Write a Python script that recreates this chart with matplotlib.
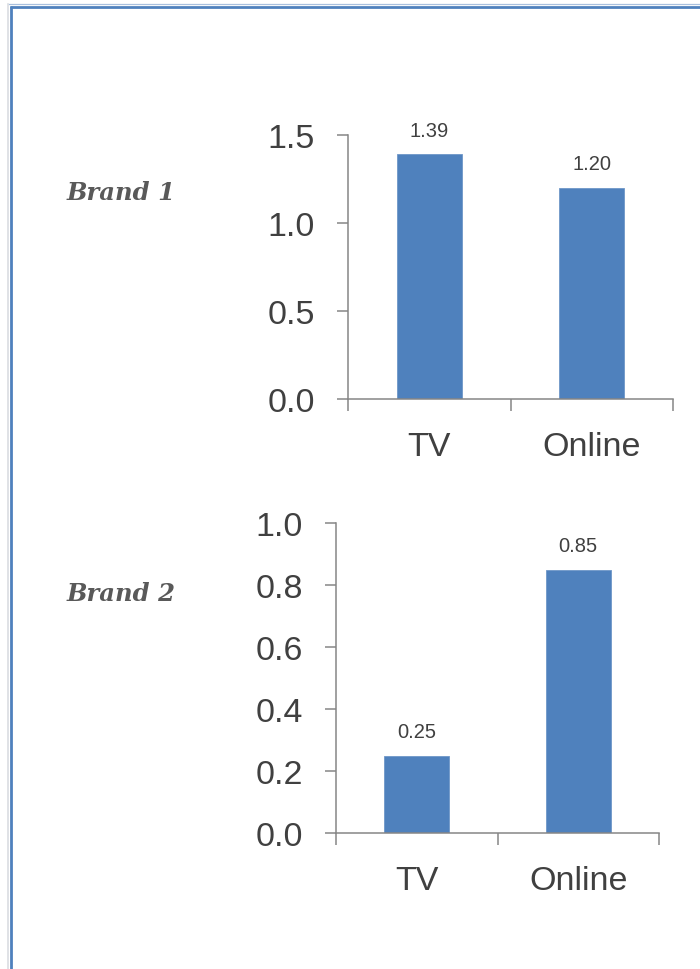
import matplotlib
matplotlib.use("Agg")
import matplotlib.pyplot as plt
from matplotlib.lines import Line2D
from matplotlib.ticker import FixedLocator

# Data
categories = ["TV", "Online"]
brand1_values = [1.39, 1.20]
brand2_values = [0.25, 0.85]
brand1_ticks = [0.0, 0.5, 1.0, 1.5]
brand2_ticks = [0.0, 0.2, 0.4, 0.6, 0.8, 1.0]
brand_names = ["Brand 1", "Brand 2"]

W, H = 700, 970
BAR = "#4F81BD"
AXIS = "#868686"
TEXT = "#404040"

fig = plt.figure(figsize=(W / 100, H / 100), dpi=100)
fig.patch.set_facecolor("white")


def px_axes(left, top, right, bottom):
    return fig.add_axes([left / W, (H - bottom) / H, (right - left) / W, (bottom - top) / H])


def draw_panel(ax, values, yticks, ymax):
    x = list(range(len(categories)))
    ax.bar(x, values, width=0.4, color=BAR, edgecolor="#6F97C8", linewidth=0.6, zorder=2)
    ax.set_xlim(-0.5, len(categories) - 0.5)
    ax.set_ylim(0, ymax)
    ax.set_yticks(yticks)
    ax.set_yticklabels([f"{t:.1f}" for t in yticks])
    ax.set_xticks(x)
    ax.set_xticklabels(categories)
    ax.xaxis.set_minor_locator(FixedLocator([i - 0.5 for i in range(len(categories) + 1)]))
    ax.tick_params(axis="x", which="major", length=0, pad=23,
                   labelsize=24.5, labelcolor=TEXT)
    ax.tick_params(axis="x", which="minor", length=8.6, width=1.1,
                   color=AXIS, direction="out")
    ax.tick_params(axis="y", which="major", length=8, width=1.1, color=AXIS,
                   direction="out", pad=16, labelsize=24.5, labelcolor=TEXT)
    for s in ("top", "right"):
        ax.spines[s].set_visible(False)
    for s in ("left", "bottom"):
        ax.spines[s].set_color(AXIS)
        ax.spines[s].set_linewidth(1.1)
    for xi, v in zip(x, values):
        ax.annotate(f"{v:.2f}", (xi, v), xytext=(0, 10.5), textcoords="offset points",
                    ha="center", va="bottom", fontsize=14.5, color=TEXT)
    for t in ax.get_xticklabels() + ax.get_yticklabels():
        t.set_family(["Liberation Sans", "DejaVu Sans"])
    ax.set_facecolor("none")


ax1 = px_axes(348, 136, 673, 400)
draw_panel(ax1, brand1_values, brand1_ticks, 1.5)

ax2 = px_axes(336, 524, 659, 834)
draw_panel(ax2, brand2_values, brand2_ticks, 1.0)

for txt in ax1.texts + ax2.texts:
    txt.set_family(["Liberation Sans", "DejaVu Sans"])

# Brand labels on the left
for name, yc in zip(brand_names, [193, 594]):
    fig.text(67 / W, (H - yc) / H, name, ha="left", va="center",
             fontsize=17.5, fontweight="bold", fontstyle="italic",
             family="DejaVu Serif", color="#595959")

# Surrounding frame (open to the right and bottom)
fig.add_artist(Line2D([11 / W, 11 / W], [0, (H - 7) / H], transform=fig.transFigure,
                      color=BAR, linewidth=2.0, solid_capstyle="butt"))
fig.add_artist(Line2D([8.0 / W, 8.0 / W], [0, (H - 5) / H], transform=fig.transFigure,
                      color="#DADDE2", linewidth=1.2))
fig.add_artist(Line2D([10 / W, 1.0], [(H - 7.5) / H, (H - 7.5) / H], transform=fig.transFigure,
                      color=BAR, linewidth=2.0, solid_capstyle="butt"))
fig.add_artist(Line2D([9 / W, 1.0], [(H - 5.0) / H, (H - 5.0) / H], transform=fig.transFigure,
                      color="#A9C0DE", linewidth=0.9))

fig.savefig("out.png", dpi=100, facecolor="white")
